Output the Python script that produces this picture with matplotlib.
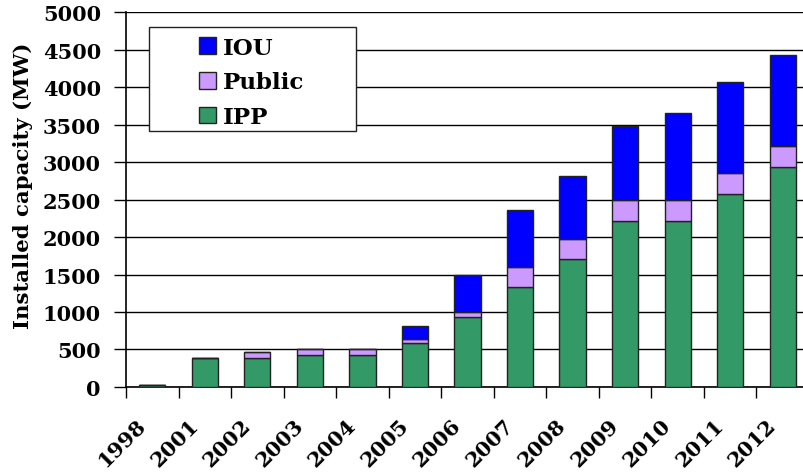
import numpy as np
import matplotlib
matplotlib.use("Agg")
import matplotlib.pyplot as plt
from matplotlib.patches import Rectangle, Patch
from matplotlib.transforms import ScaledTranslation

years = ["1998", "2001", "2002", "2003", "2004", "2005", "2006",
         "2007", "2008", "2009", "2010", "2011", "2012"]
ipp = [20, 390, 390, 430, 430, 590, 930, 1330, 1710, 2220, 2220, 2580, 2940]
public = [0, 0, 70, 70, 70, 50, 70, 270, 260, 270, 270, 270, 270]
iou = [0, 0, 0, 0, 0, 170, 490, 760, 850, 990, 1160, 1220, 1220]

c_ipp = "#339966"
c_pub = "#cc99ff"
c_iou = "#0000ff"

plt.rcParams['font.family'] = ['DejaVu Serif']
plt.rcParams['font.weight'] = 'bold'

fig = plt.figure(figsize=(8.04, 4.77), dpi=100)
ax = fig.add_axes([0.1567, 0.1866, 0.8495, 0.786])

x = np.arange(len(years))
ipp = np.array(ipp)
public = np.array(public)
iou = np.array(iou)
w = 0.5
ax.bar(x, ipp, w, color=c_ipp, edgecolor="#222222", linewidth=1, zorder=3)
ax.bar(x, public, w, bottom=ipp, color=c_pub, edgecolor="#222222", linewidth=1, zorder=3)
ax.bar(x, iou, w, bottom=ipp + public, color=c_iou, edgecolor="#222222", linewidth=1, zorder=3)

ax.set_xlim(-0.5, len(years) - 0.5)
ax.set_ylim(0, 5000)
ax.set_yticks(np.arange(0, 5001, 500))
ax.yaxis.grid(True, color="black", linewidth=1)
ax.set_axisbelow(True)

ax.set_xticks(x)
ax.set_xticklabels(years, rotation=45, ha="right", va="center", rotation_mode="anchor")
ax.set_xticks(np.arange(-0.5, len(years), 1), minor=True)
ax.tick_params(axis="x", which="major", length=0, pad=25, labelsize=15)
ax.tick_params(axis="x", which="minor", length=8, width=1, direction="out")
ax.tick_params(axis="y", length=9, width=1, direction="out", pad=9, labelsize=15)
# nudge the slanted year labels a bit to the left
shift = ScaledTranslation(-7 / 72, 0, fig.dpi_scale_trans)
for lab in ax.get_xticklabels():
    lab.set_transform(lab.get_transform() + shift)

for s in ["top", "right"]:
    ax.spines[s].set_visible(False)
ax.spines["left"].set_linewidth(1.2)
ax.spines["bottom"].set_linewidth(1.2)

ax.set_ylabel("Installed capacity (MW)", fontsize=15.3, fontweight="bold")
ax.yaxis.set_label_coords(-0.136, 0.539)

# legend box drawn by hand, Excel-style wide frame
ax.add_patch(Rectangle((0.0337, 0.6827), 0.303, 0.2773, transform=ax.transAxes,
                       facecolor="white", edgecolor="#222222", linewidth=1, zorder=4))
handles = [Patch(facecolor=c_iou, edgecolor="#222222", label="IOU"),
           Patch(facecolor=c_pub, edgecolor="#222222", label="Public"),
           Patch(facecolor=c_ipp, edgecolor="#222222", label="IPP")]
leg = ax.legend(handles=handles, loc="upper left", bbox_to_anchor=(0.1069, 0.934),
                frameon=False, borderpad=0, borderaxespad=0, fontsize=16.5,
                handlelength=0.75, handleheight=0.75, handletextpad=0.3,
                labelspacing=0.55)
leg.set_zorder(5)

fig.savefig("out.png", dpi=100)
